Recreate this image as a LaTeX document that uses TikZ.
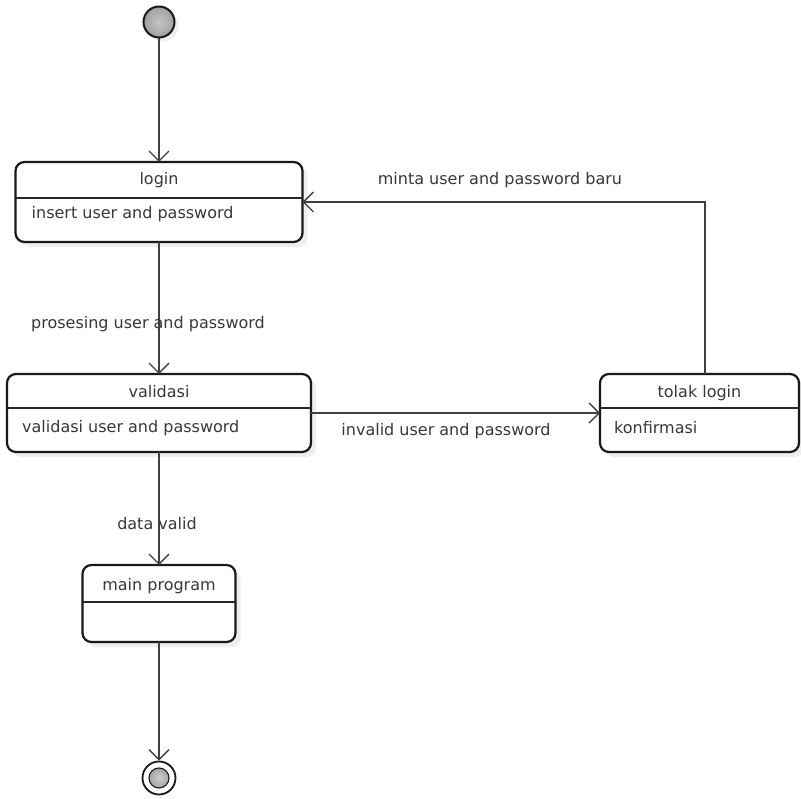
\documentclass[tikz,border=0pt]{standalone}
\usepackage{fontspec}
\setmainfont{DejaVu Sans}
\usetikzlibrary{arrows.meta,shadows}

\tikzset{
  state/.style={draw=black!90, line width=2.2pt, rounded corners=9pt, fill=white,
    outer sep=0pt, inner sep=0pt,
    drop shadow={opacity=0.13, shadow xshift=5pt, shadow yshift=-5pt}},
  trans/.style={draw=black!75, line width=1.4pt,
    -{Straight Barb[length=10pt,width=20pt,line width=1.4pt]}},
  txt/.style={text=black!78, font=\fontsize{16}{19}\selectfont, inner sep=0pt},
  sep/.style={draw=black!85, line width=1.3pt},
}

\begin{document}
\begin{tikzpicture}[x=1pt,y=-1pt]
\useasboundingbox[fill=white] (0,0) rectangle (801,799);

% start and end
\node[circle, draw=black!90, line width=2pt, inner color=gray!45, outer color=gray!75,
  minimum size=31, inner sep=0,
  drop shadow={opacity=0.12, shadow xshift=4pt, shadow yshift=-4pt}] (init) at (159,22) {};
\node[circle, draw=black!90, line width=1.8pt, fill=white, minimum size=33, inner sep=0] (final) at (159,778) {};
\node[circle, draw=black!90, line width=1.1pt, inner color=gray!40, outer color=gray!70,
  minimum size=20, inner sep=0] (finalin) at (final) {};

% states
\node[state, minimum width=287, minimum height=80] (login) at (159,202) {};
\draw[sep] ([yshift=-36]login.north west) -- ([yshift=-36]login.north east);
\node[txt] (logint) at ([yshift=-18]login.north) {login};
\node[txt, anchor=west] (logind) at ([xshift=16,yshift=-52]login.north west) {insert user and password};

\node[state, minimum width=304, minimum height=78] (validasi) at (159,413) {};
\draw[sep] ([yshift=-34]validasi.north west) -- ([yshift=-34]validasi.north east);
\node[txt] (validasit) at ([yshift=-18]validasi.north) {validasi};
\node[txt, anchor=west] (validasid) at ([xshift=15,yshift=-54]validasi.north west) {validasi user and password};

\node[state, minimum width=199, minimum height=78] (tolak) at (699.5,413) {};
\draw[sep] ([yshift=-34]tolak.north west) -- ([yshift=-34]tolak.north east);
\node[txt] (tolakt) at ([yshift=-19]tolak.north) {tolak login};
\node[txt, anchor=west] (tolakd) at ([xshift=14,yshift=-54]tolak.north west) {konfirmasi};

\node[state, minimum width=153, minimum height=77] (mainprog) at (159,603.5) {};
\draw[sep] ([yshift=-37]mainprog.north west) -- ([yshift=-37]mainprog.north east);
\node[txt] (mainprogt) at ([yshift=-21]mainprog.north) {main program};

% transitions
\draw[trans] (init) -- (login.north);
\draw[trans] (login.south) -- (validasi.north);
\draw[trans] (validasi.east) -- (tolak.west);
\draw[trans] ([xshift=5.5]tolak.north) |- (login.east);
\draw[trans] (validasi.south) -- (mainprog.north);
\draw[trans] (mainprog.south) -- (final);

% labels
\node[txt] (lproses) at (148,324) {prosesing user and password};
\node[txt] (linvalid) at (446,431) {invalid user and password};
\node[txt] (lminta) at (500,180) {minta user and password baru};
\node[txt] (lvalid) at (157,524) {data valid};
\end{tikzpicture}
\end{document}
